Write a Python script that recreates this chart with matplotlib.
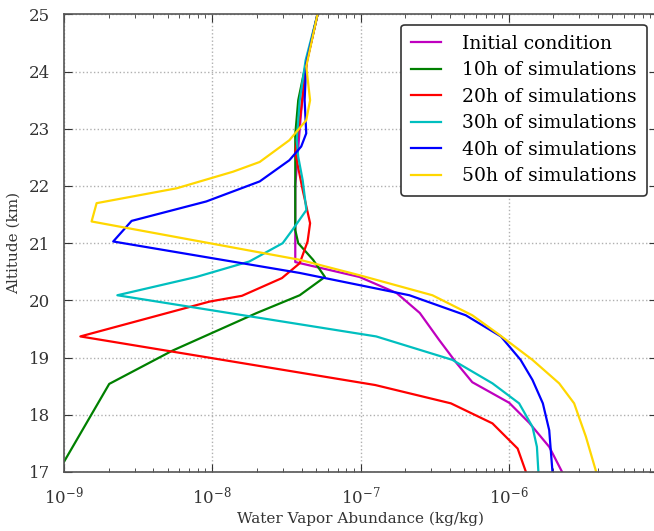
import matplotlib
matplotlib.use("Agg")
import matplotlib.pyplot as plt
import numpy as np

plt.rcParams['font.family'] = 'DejaVu Serif'
plt.rcParams['mathtext.fontset'] = 'dejavuserif'

# altitude (km) and log10 of water vapor abundance (kg/kg) for each run
alt_init = [17.0, 17.44, 17.86, 18.21, 18.57, 18.91, 19.31, 19.78, 20.13, 20.41, 20.67, 21.0, 22.0, 23.0, 24.0, 25.0]
log_init = [-5.64, -5.727, -5.862, -5.997, -6.246, -6.354, -6.47, -6.60, -6.757, -7.007, -7.44, -7.44, -7.44, -7.41, -7.377, -7.29]

alt_10h = [17.0, 18.54, 19.12, 19.78, 20.09, 20.41, 20.71, 21.0, 21.23, 22.0, 22.9, 23.5, 24.0, 25.0]
log_10h = [-9.04, -8.695, -8.27, -7.70, -7.41, -7.24, -7.32, -7.42, -7.44, -7.44, -7.44, -7.42, -7.38, -7.29]

alt_20h = [17.0, 17.41, 17.85, 18.2, 18.52, 19.37, 19.98, 20.08, 20.39, 20.65, 21.03, 21.35, 21.93, 22.58, 23.15, 23.56, 24.2, 25.0]
log_20h = [-5.884, -5.94, -6.11, -6.39, -6.90, -8.89, -8.017, -7.80, -7.53, -7.41, -7.357, -7.34, -7.39, -7.44, -7.41, -7.39, -7.36, -7.29]

alt_30h = [17.0, 17.44, 17.79, 18.2, 18.55, 18.96, 19.37, 20.09, 20.41, 20.68, 21.0, 21.23, 21.58, 22.1, 22.51, 22.8, 23.5, 24.2, 25.0]
log_30h = [-5.80, -5.81, -5.84, -5.93, -6.11, -6.38, -6.894, -8.64, -8.107, -7.75, -7.525, -7.46, -7.365, -7.39, -7.42, -7.43, -7.41, -7.37, -7.29]

alt_40h = [17.0, 17.73, 18.2, 18.61, 18.96, 19.37, 19.74, 20.09, 20.48, 21.03, 21.39, 21.73, 22.08, 22.45, 22.69, 22.92, 23.5, 24.14, 25.0]
log_40h = [-5.705, -5.727, -5.77, -5.84, -5.92, -6.053, -6.29, -6.67, -7.41, -8.668, -8.544, -8.04, -7.68, -7.48, -7.40, -7.366, -7.377, -7.366, -7.29]

alt_50h = [17.0, 17.62, 18.2, 18.55, 18.96, 19.4, 19.74, 20.09, 20.44, 20.71, 21.38, 21.70, 21.96, 22.25, 22.42, 22.8, 23.15, 23.5, 24.09, 25.0]
log_50h = [-5.41, -5.48, -5.559, -5.66, -5.84, -6.064, -6.246, -6.515, -7.007, -7.41, -8.814, -8.78, -8.24, -7.86, -7.68, -7.48, -7.366, -7.34, -7.366, -7.29]

labels = ["Initial condition", "10h of simulations", "20h of simulations",
          "30h of simulations", "40h of simulations", "50h of simulations"]
colors = ["#bf00bf", "#008000", "#ff0000", "#00bfbf", "#0000ff", "#ffd700"]

fig = plt.figure(figsize=(6.54, 5.31), dpi=100)
ax = fig.add_axes([64 / 654, 59 / 531, 593 / 654, 457.6 / 531])

runs = [(alt_init, log_init), (alt_10h, log_10h), (alt_20h, log_20h),
        (alt_30h, log_30h), (alt_40h, log_40h), (alt_50h, log_50h)]
for (alt, lg), lab, col in zip(runs, labels, colors):
    ax.plot(10 ** np.array(lg), alt, color=col, lw=1.6, label=lab)

ax.set_xscale('log')
ax.set_xlim(1e-9, 1e-5)
ax.set_ylim(17, 25)
ax.set_xticks([1e-9, 1e-8, 1e-7, 1e-6])
ax.set_xticklabels([r'$10^{-9}$', r'$10^{-8}$', r'$10^{-7}$', r'$10^{-6}$'])
ax.tick_params(which='both', direction='in', top=True, right=True, labelsize=12, colors='#333333')
ax.tick_params(which='major', length=6, pad=10)
ax.tick_params(which='minor', length=3)
ax.grid(True, which='major', linestyle=':', color='#b0b0b0', linewidth=1)
for s in ax.spines.values():
    s.set_color('#555555')
    s.set_linewidth(1.2)

ax.set_xlabel('Water Vapor Abundance (kg/kg)', fontsize=11, color='#333333', labelpad=3)
ax.set_ylabel('Altitude (km)', fontsize=11, color='#333333', labelpad=6)

leg = ax.legend(loc='upper right', fontsize=13.5, handlelength=1.6, handletextpad=1.1,
                labelspacing=0.45, borderpad=0.55, borderaxespad=0.55, fancybox=True, framealpha=1)
leg.get_frame().set_edgecolor('#333333')
leg.get_frame().set_linewidth(1.2)

fig.savefig('out.png', dpi=100)
